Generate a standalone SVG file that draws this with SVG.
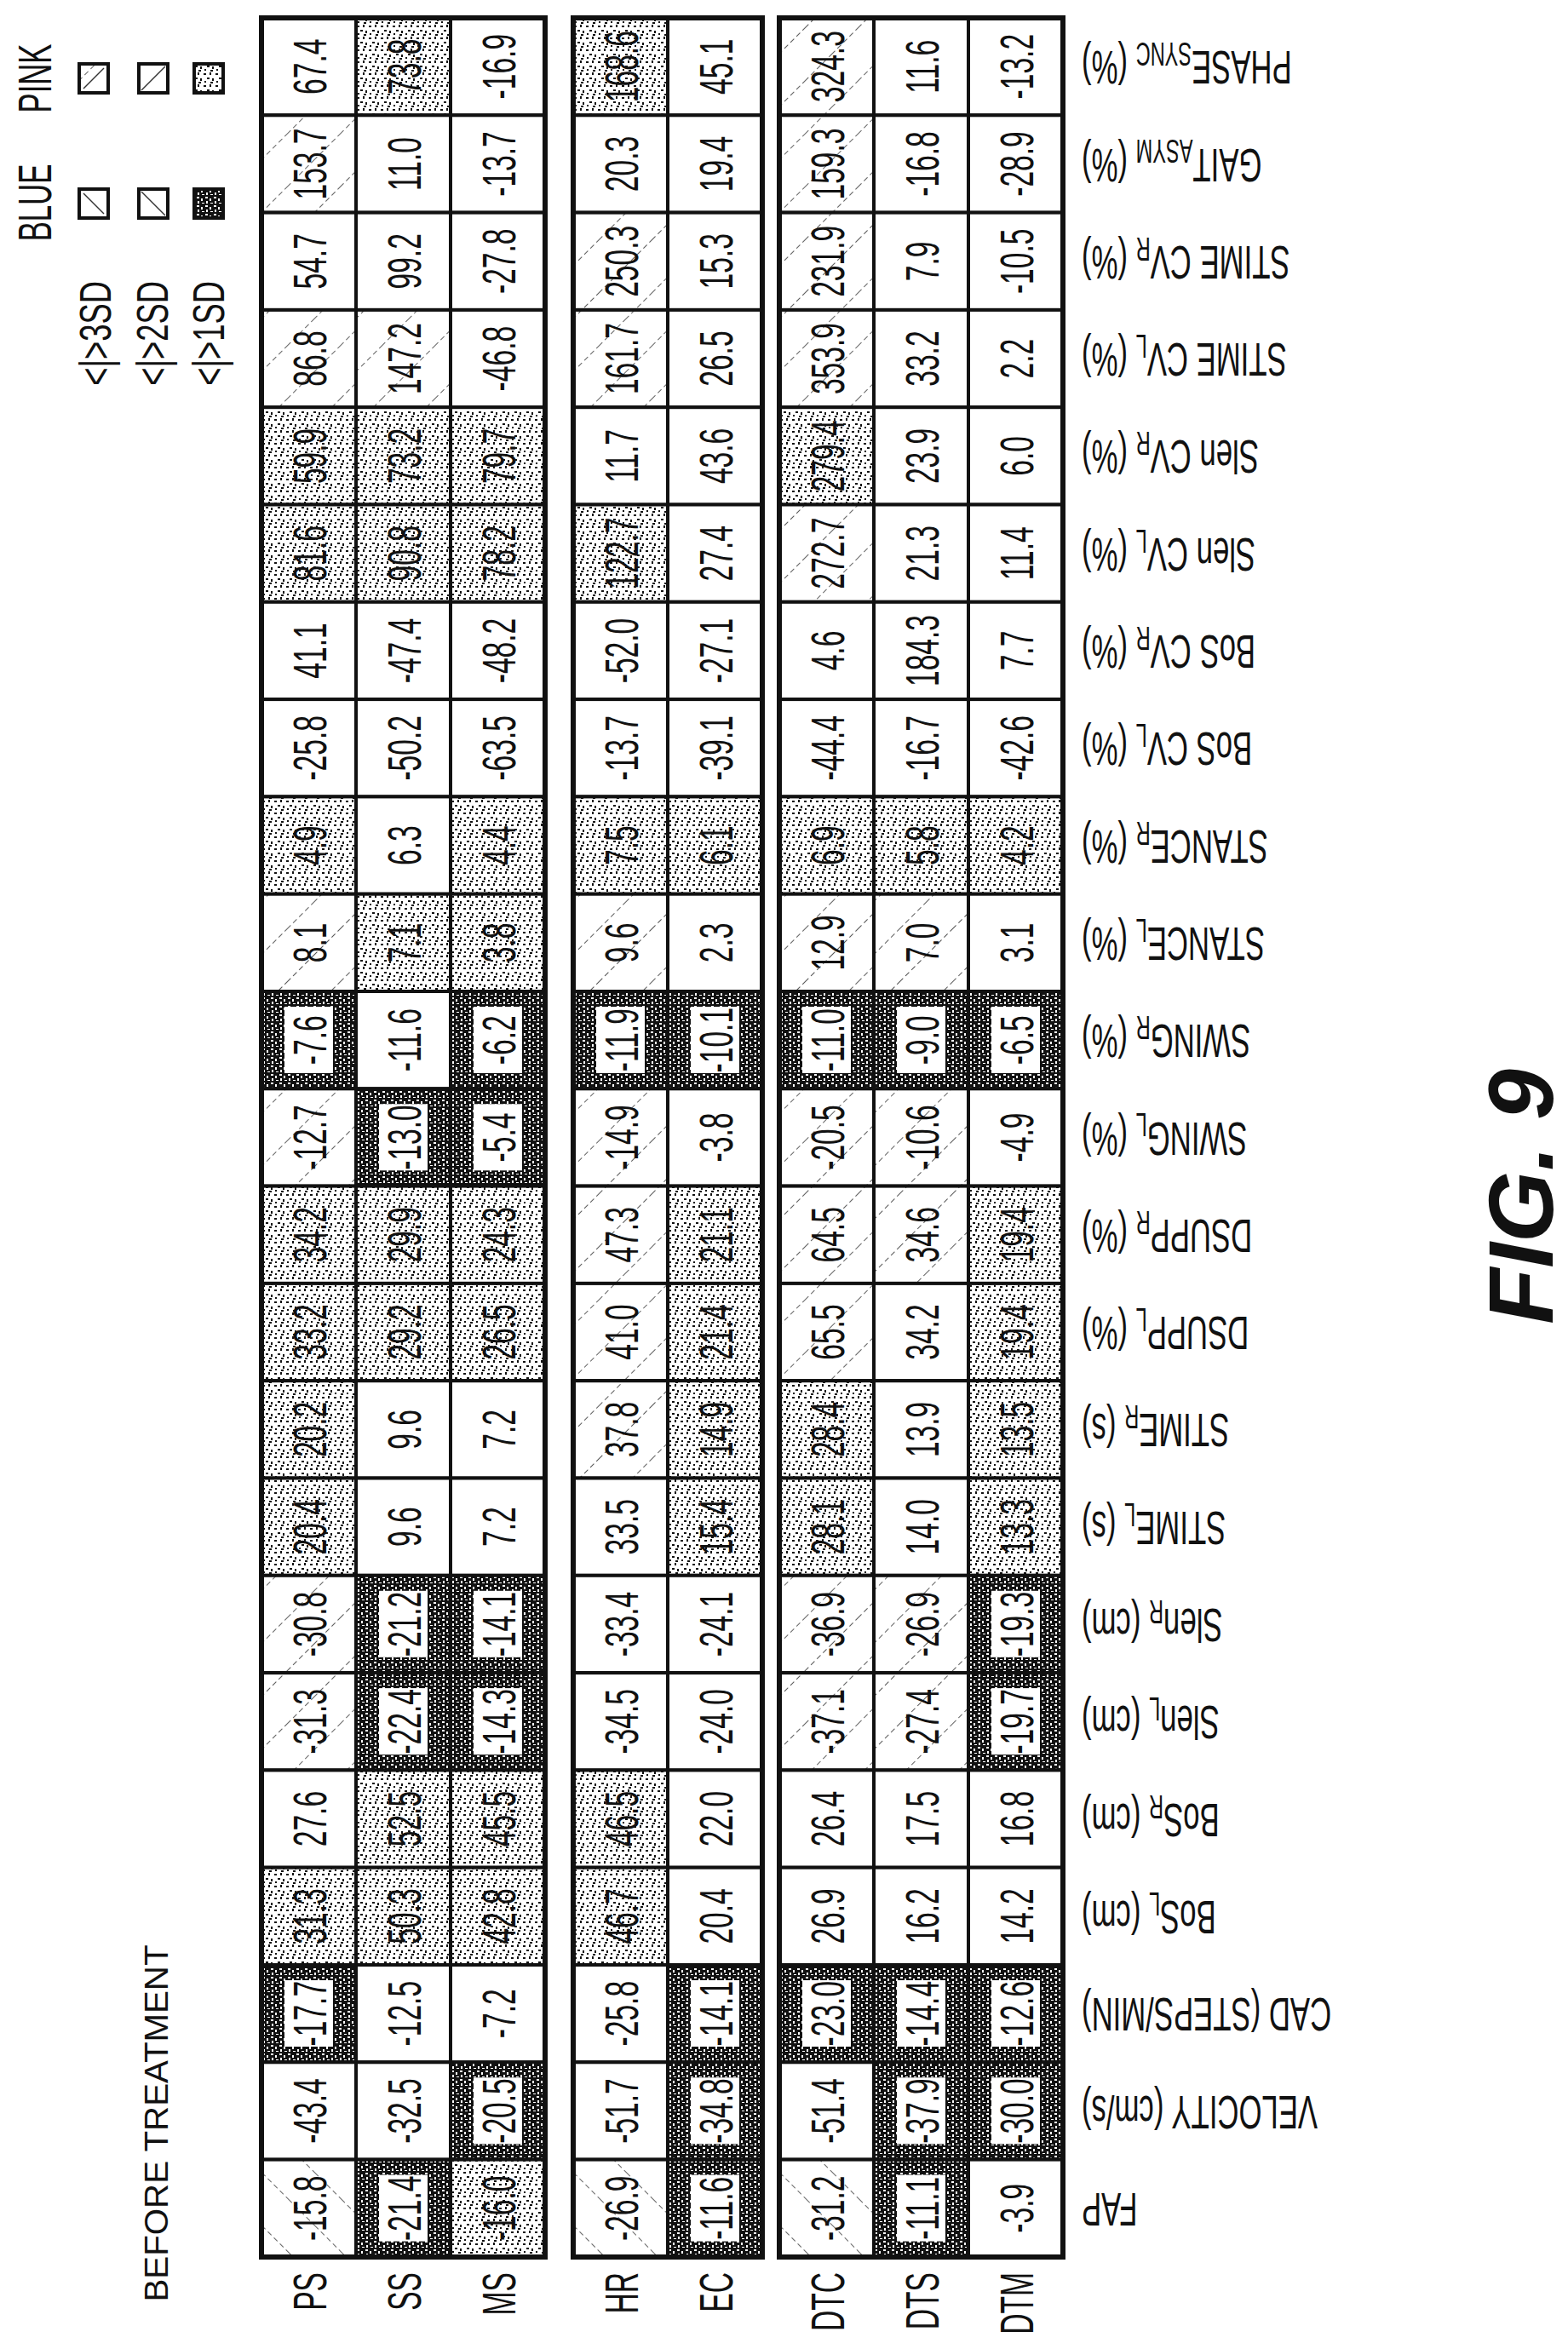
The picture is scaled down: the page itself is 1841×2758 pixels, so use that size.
<svg xmlns="http://www.w3.org/2000/svg" width="1841" height="2758" viewBox="0 0 1841 2758">
<style>
text{font-family:"Liberation Sans",Arial,sans-serif;fill:#111}
.n text{font-size:56px;text-anchor:middle}
.k{stroke:#111;stroke-width:4}
.W{fill:#fff}.H{fill:url(#hs)}.B{fill:url(#hb)}.P{fill:url(#st)}.D{fill:url(#dk)}
.i{fill:#fff;stroke:none}
.lb text{font-size:56px;text-anchor:end}
.sb{font-size:38px}
.lg{font-size:56px;text-anchor:middle}
</style>
<defs>
<pattern id="hs" width="44" height="44" patternUnits="userSpaceOnUse" patternTransform="rotate(45)"><rect width="44" height="44" fill="#fff"/><line x1="0" y1="0" x2="0" y2="44" stroke="#333" stroke-width="1.6" stroke-dasharray="6 4"/></pattern>
<pattern id="hb" width="44" height="44" patternUnits="userSpaceOnUse" patternTransform="rotate(-45)"><rect width="44" height="44" fill="#fff"/><line x1="0" y1="0" x2="0" y2="44" stroke="#333" stroke-width="1.6" stroke-dasharray="6 4"/></pattern>
<pattern id="st" width="14" height="14" patternUnits="userSpaceOnUse"><rect width="14" height="14" fill="#fff"/><rect x="1" y="2" width="3" height="2" fill="#111"/><rect x="8" y="1" width="2" height="3" fill="#111"/><rect x="5" y="7" width="3" height="2" fill="#111"/><rect x="11" y="8" width="2" height="3" fill="#111"/><rect x="2" y="11" width="2" height="2" fill="#111"/><rect x="9" y="12" width="3" height="2" fill="#111"/></pattern>
<pattern id="dk" width="10" height="10" patternUnits="userSpaceOnUse"><rect width="10" height="10" fill="#111"/><rect x="1" y="1" width="3" height="2" fill="#fff"/><rect x="6" y="3" width="2" height="3" fill="#fff"/><rect x="2" y="6" width="2" height="3" fill="#fff"/><rect x="7" y="8" width="3" height="1" fill="#fff"/></pattern>
</defs>

<g id="legend">
<text class="lg" transform="matrix(0,-0.62,1,0,60,92)">PINK</text>
<text class="lg" transform="matrix(0,-0.62,1,0,60,238)">BLUE</text>
<rect class="k" fill="url(#hs)" x="93" y="75" width="34" height="34"/>
<line x1="98" y1="104" x2="122" y2="80" stroke="#333" stroke-width="1.5"/>
<rect class="k W" x="163" y="75" width="34" height="34"/>
<line x1="166" y1="106" x2="194" y2="78" stroke="#333" stroke-width="1.5"/>
<rect class="k P" x="228" y="75" width="34" height="34"/>
<rect class="k W" x="93" y="222" width="34" height="34"/>
<line x1="98" y1="227" x2="122" y2="251" stroke="#333" stroke-width="1.5"/>
<rect class="k W" x="163" y="222" width="34" height="34"/>
<line x1="166" y1="225" x2="194" y2="253" stroke="#333" stroke-width="1.5"/>
<rect class="k D" x="228" y="222" width="34" height="34"/>
<text transform="matrix(0,-0.7,1,0,130,330)" style="font-size:52px;text-anchor:end">&lt;|&gt;3SD</text>
<text transform="matrix(0,-0.7,1,0,197,330)" style="font-size:52px;text-anchor:end">&lt;|&gt;2SD</text>
<text transform="matrix(0,-0.7,1,0,263,330)" style="font-size:52px;text-anchor:end">&lt;|&gt;1SD</text>
</g>

<g id="title"><text transform="matrix(0,-1.06,1,0,197,2493)" style="font-size:38px;text-anchor:middle">BEFORE TREATMENT</text></g>
<g id="fig"><text transform="matrix(0,-1,1,0,1823,1405)" style="font-size:108px;font-weight:bold;font-style:italic;text-anchor:middle">FIG. 9</text></g>

<g id="collabels" class="n">
<text transform="matrix(0,-0.6,1,0,382.5,2668)" style="text-anchor:end">PS</text>
<text transform="matrix(0,-0.6,1,0,493.5,2668)" style="text-anchor:end">SS</text>
<text transform="matrix(0,-0.6,1,0,604.5,2668)" style="text-anchor:end">MS</text>
<text transform="matrix(0,-0.6,1,0,748.5,2668)" style="text-anchor:end">HR</text>
<text transform="matrix(0,-0.6,1,0,859.5,2668)" style="text-anchor:end">EC</text>
<text transform="matrix(0,-0.6,1,0,990.5,2668)" style="text-anchor:end">DTC</text>
<text transform="matrix(0,-0.6,1,0,1101.5,2668)" style="text-anchor:end">DTS</text>
<text transform="matrix(0,-0.6,1,0,1212.5,2668)" style="text-anchor:end">DTM</text>
</g>

<g id="rowlabels" class="lb">
<text transform="matrix(-0.62,0,0,-1,1270,60.2)">PHASE<tspan class="sb" dy="10">SYNC</tspan><tspan dy="-10"> (%)</tspan></text>
<text transform="matrix(-0.62,0,0,-1,1270,174.5)">GAIT<tspan class="sb" dy="10">ASYM</tspan><tspan dy="-10"> (%)</tspan></text>
<text transform="matrix(-0.62,0,0,-1,1270,288.8)">STIME CV<tspan class="sb" dy="10">R</tspan><tspan dy="-10"> (%)</tspan></text>
<text transform="matrix(-0.62,0,0,-1,1270,403.1)">STIME CV<tspan class="sb" dy="10">L</tspan><tspan dy="-10"> (%)</tspan></text>
<text transform="matrix(-0.62,0,0,-1,1270,517.4)">Slen CV<tspan class="sb" dy="10">R</tspan><tspan dy="-10"> (%)</tspan></text>
<text transform="matrix(-0.62,0,0,-1,1270,631.7)">Slen CV<tspan class="sb" dy="10">L</tspan><tspan dy="-10"> (%)</tspan></text>
<text transform="matrix(-0.62,0,0,-1,1270,746)">BoS CV<tspan class="sb" dy="10">R</tspan><tspan dy="-10"> (%)</tspan></text>
<text transform="matrix(-0.62,0,0,-1,1270,860.3)">BoS CV<tspan class="sb" dy="10">L</tspan><tspan dy="-10"> (%)</tspan></text>
<text transform="matrix(-0.62,0,0,-1,1270,974.6)">STANCE<tspan class="sb" dy="10">R</tspan><tspan dy="-10"> (%)</tspan></text>
<text transform="matrix(-0.62,0,0,-1,1270,1088.9)">STANCE<tspan class="sb" dy="10">L</tspan><tspan dy="-10"> (%)</tspan></text>
<text transform="matrix(-0.62,0,0,-1,1270,1203.2)">SWING<tspan class="sb" dy="10">R</tspan><tspan dy="-10"> (%)</tspan></text>
<text transform="matrix(-0.62,0,0,-1,1270,1317.5)">SWING<tspan class="sb" dy="10">L</tspan><tspan dy="-10"> (%)</tspan></text>
<text transform="matrix(-0.62,0,0,-1,1270,1431.8)">DSUPP<tspan class="sb" dy="10">R</tspan><tspan dy="-10"> (%)</tspan></text>
<text transform="matrix(-0.62,0,0,-1,1270,1546.1)">DSUPP<tspan class="sb" dy="10">L</tspan><tspan dy="-10"> (%)</tspan></text>
<text transform="matrix(-0.62,0,0,-1,1270,1660.4)">STIME<tspan class="sb" dy="10">R</tspan><tspan dy="-10"> (s)</tspan></text>
<text transform="matrix(-0.62,0,0,-1,1270,1774.7)">STIME<tspan class="sb" dy="10">L</tspan><tspan dy="-10"> (s)</tspan></text>
<text transform="matrix(-0.62,0,0,-1,1270,1889)">Slen<tspan class="sb" dy="10">R</tspan><tspan dy="-10"> (cm)</tspan></text>
<text transform="matrix(-0.62,0,0,-1,1270,2003.3)">Slen<tspan class="sb" dy="10">L</tspan><tspan dy="-10"> (cm)</tspan></text>
<text transform="matrix(-0.62,0,0,-1,1270,2117.6)">BoS<tspan class="sb" dy="10">R</tspan><tspan dy="-10"> (cm)</tspan></text>
<text transform="matrix(-0.62,0,0,-1,1270,2231.9)">BoS<tspan class="sb" dy="10">L</tspan><tspan dy="-10"> (cm)</tspan></text>
<text transform="matrix(-0.62,0,0,-1,1270,2346.2)">CAD (STEPS/MIN)</text>
<text transform="matrix(-0.62,0,0,-1,1270,2460.5)">VELOCITY (cm/s)</text>
<text transform="matrix(-0.62,0,0,-1,1270,2574.8)">FAP</text>
</g>

<g id="col-PS" class="n" transform="translate(307,0)">
<rect class="k W" y="21" width="111" height="114.3"/><text transform="matrix(0,-0.6,1,0,75.5,78.2)">67.4</text>
<rect class="k H" y="135.3" width="111" height="114.3"/><text transform="matrix(0,-0.6,1,0,75.5,192.5)">153.7</text>
<rect class="k W" y="249.6" width="111" height="114.3"/><text transform="matrix(0,-0.6,1,0,75.5,306.8)">54.7</text>
<rect class="k H" y="363.9" width="111" height="114.3"/><text transform="matrix(0,-0.6,1,0,75.5,421.1)">86.8</text>
<rect class="k P" y="478.2" width="111" height="114.3"/><text transform="matrix(0,-0.6,1,0,75.5,535.4)">59.9</text>
<rect class="k P" y="592.5" width="111" height="114.3"/><text transform="matrix(0,-0.6,1,0,75.5,649.7)">81.6</text>
<rect class="k W" y="706.8" width="111" height="114.3"/><text transform="matrix(0,-0.6,1,0,75.5,764)">41.1</text>
<rect class="k W" y="821.1" width="111" height="114.3"/><text transform="matrix(0,-0.6,1,0,75.5,878.3)">-25.8</text>
<rect class="k P" y="935.4" width="111" height="114.3"/><text transform="matrix(0,-0.6,1,0,75.5,992.6)">4.9</text>
<rect class="k H" y="1049.7" width="111" height="114.3"/><text transform="matrix(0,-0.6,1,0,75.5,1106.9)">8.1</text>
<rect class="k D" y="1164" width="111" height="114.3"/><rect class="i" x="27" y="1182" width="57" height="78"/><text transform="matrix(0,-0.6,1,0,75.5,1221.2)">-7.6</text>
<rect class="k H" y="1278.3" width="111" height="114.3"/><text transform="matrix(0,-0.6,1,0,75.5,1335.5)">-12.7</text>
<rect class="k P" y="1392.6" width="111" height="114.3"/><text transform="matrix(0,-0.6,1,0,75.5,1449.8)">34.2</text>
<rect class="k P" y="1506.9" width="111" height="114.3"/><text transform="matrix(0,-0.6,1,0,75.5,1564.1)">33.2</text>
<rect class="k P" y="1621.2" width="111" height="114.3"/><text transform="matrix(0,-0.6,1,0,75.5,1678.4)">20.2</text>
<rect class="k P" y="1735.5" width="111" height="114.3"/><text transform="matrix(0,-0.6,1,0,75.5,1792.7)">20.4</text>
<rect class="k H" y="1849.8" width="111" height="114.3"/><text transform="matrix(0,-0.6,1,0,75.5,1907)">-30.8</text>
<rect class="k H" y="1964.1" width="111" height="114.3"/><text transform="matrix(0,-0.6,1,0,75.5,2021.3)">-31.3</text>
<rect class="k W" y="2078.4" width="111" height="114.3"/><text transform="matrix(0,-0.6,1,0,75.5,2135.6)">27.6</text>
<rect class="k P" y="2192.7" width="111" height="114.3"/><text transform="matrix(0,-0.6,1,0,75.5,2249.9)">31.3</text>
<rect class="k D" y="2307" width="111" height="114.3"/><rect class="i" x="27" y="2325" width="57" height="78"/><text transform="matrix(0,-0.6,1,0,75.5,2364.2)">-17.7</text>
<rect class="k W" y="2421.3" width="111" height="114.3"/><text transform="matrix(0,-0.6,1,0,75.5,2478.5)">-43.4</text>
<rect class="k B" y="2535.6" width="111" height="114.3"/><text transform="matrix(0,-0.6,1,0,75.5,2592.8)">-15.8</text>
</g>

<g id="col-SS" class="n" transform="translate(418,0)">
<rect class="k P" y="21" width="111" height="114.3"/><text transform="matrix(0,-0.6,1,0,75.5,78.2)">73.8</text>
<rect class="k W" y="135.3" width="111" height="114.3"/><text transform="matrix(0,-0.6,1,0,75.5,192.5)">11.0</text>
<rect class="k W" y="249.6" width="111" height="114.3"/><text transform="matrix(0,-0.6,1,0,75.5,306.8)">99.2</text>
<rect class="k H" y="363.9" width="111" height="114.3"/><text transform="matrix(0,-0.6,1,0,75.5,421.1)">147.2</text>
<rect class="k P" y="478.2" width="111" height="114.3"/><text transform="matrix(0,-0.6,1,0,75.5,535.4)">73.2</text>
<rect class="k P" y="592.5" width="111" height="114.3"/><text transform="matrix(0,-0.6,1,0,75.5,649.7)">90.8</text>
<rect class="k W" y="706.8" width="111" height="114.3"/><text transform="matrix(0,-0.6,1,0,75.5,764)">-47.4</text>
<rect class="k W" y="821.1" width="111" height="114.3"/><text transform="matrix(0,-0.6,1,0,75.5,878.3)">-50.2</text>
<rect class="k W" y="935.4" width="111" height="114.3"/><text transform="matrix(0,-0.6,1,0,75.5,992.6)">6.3</text>
<rect class="k P" y="1049.7" width="111" height="114.3"/><text transform="matrix(0,-0.6,1,0,75.5,1106.9)">7.1</text>
<rect class="k W" y="1164" width="111" height="114.3"/><text transform="matrix(0,-0.6,1,0,75.5,1221.2)">-11.6</text>
<rect class="k D" y="1278.3" width="111" height="114.3"/><rect class="i" x="27" y="1296.3" width="57" height="78"/><text transform="matrix(0,-0.6,1,0,75.5,1335.5)">-13.0</text>
<rect class="k P" y="1392.6" width="111" height="114.3"/><text transform="matrix(0,-0.6,1,0,75.5,1449.8)">29.9</text>
<rect class="k P" y="1506.9" width="111" height="114.3"/><text transform="matrix(0,-0.6,1,0,75.5,1564.1)">29.2</text>
<rect class="k W" y="1621.2" width="111" height="114.3"/><text transform="matrix(0,-0.6,1,0,75.5,1678.4)">9.6</text>
<rect class="k W" y="1735.5" width="111" height="114.3"/><text transform="matrix(0,-0.6,1,0,75.5,1792.7)">9.6</text>
<rect class="k D" y="1849.8" width="111" height="114.3"/><rect class="i" x="27" y="1867.8" width="57" height="78"/><text transform="matrix(0,-0.6,1,0,75.5,1907)">-21.2</text>
<rect class="k D" y="1964.1" width="111" height="114.3"/><rect class="i" x="27" y="1982.1" width="57" height="78"/><text transform="matrix(0,-0.6,1,0,75.5,2021.3)">-22.4</text>
<rect class="k P" y="2078.4" width="111" height="114.3"/><text transform="matrix(0,-0.6,1,0,75.5,2135.6)">52.5</text>
<rect class="k P" y="2192.7" width="111" height="114.3"/><text transform="matrix(0,-0.6,1,0,75.5,2249.9)">50.3</text>
<rect class="k W" y="2307" width="111" height="114.3"/><text transform="matrix(0,-0.6,1,0,75.5,2364.2)">-12.5</text>
<rect class="k W" y="2421.3" width="111" height="114.3"/><text transform="matrix(0,-0.6,1,0,75.5,2478.5)">-32.5</text>
<rect class="k D" y="2535.6" width="111" height="114.3"/><rect class="i" x="27" y="2553.6" width="57" height="78"/><text transform="matrix(0,-0.6,1,0,75.5,2592.8)">-21.4</text>
</g>

<g id="col-MS" class="n" transform="translate(529,0)">
<rect class="k W" y="21" width="111" height="114.3"/><text transform="matrix(0,-0.6,1,0,75.5,78.2)">-16.9</text>
<rect class="k W" y="135.3" width="111" height="114.3"/><text transform="matrix(0,-0.6,1,0,75.5,192.5)">-13.7</text>
<rect class="k W" y="249.6" width="111" height="114.3"/><text transform="matrix(0,-0.6,1,0,75.5,306.8)">-27.8</text>
<rect class="k W" y="363.9" width="111" height="114.3"/><text transform="matrix(0,-0.6,1,0,75.5,421.1)">-46.8</text>
<rect class="k P" y="478.2" width="111" height="114.3"/><text transform="matrix(0,-0.6,1,0,75.5,535.4)">79.7</text>
<rect class="k P" y="592.5" width="111" height="114.3"/><text transform="matrix(0,-0.6,1,0,75.5,649.7)">78.2</text>
<rect class="k W" y="706.8" width="111" height="114.3"/><text transform="matrix(0,-0.6,1,0,75.5,764)">-48.2</text>
<rect class="k W" y="821.1" width="111" height="114.3"/><text transform="matrix(0,-0.6,1,0,75.5,878.3)">-63.5</text>
<rect class="k P" y="935.4" width="111" height="114.3"/><text transform="matrix(0,-0.6,1,0,75.5,992.6)">4.4</text>
<rect class="k P" y="1049.7" width="111" height="114.3"/><text transform="matrix(0,-0.6,1,0,75.5,1106.9)">3.8</text>
<rect class="k D" y="1164" width="111" height="114.3"/><rect class="i" x="27" y="1182" width="57" height="78"/><text transform="matrix(0,-0.6,1,0,75.5,1221.2)">-6.2</text>
<rect class="k D" y="1278.3" width="111" height="114.3"/><rect class="i" x="27" y="1296.3" width="57" height="78"/><text transform="matrix(0,-0.6,1,0,75.5,1335.5)">-5.4</text>
<rect class="k P" y="1392.6" width="111" height="114.3"/><text transform="matrix(0,-0.6,1,0,75.5,1449.8)">24.3</text>
<rect class="k P" y="1506.9" width="111" height="114.3"/><text transform="matrix(0,-0.6,1,0,75.5,1564.1)">26.5</text>
<rect class="k W" y="1621.2" width="111" height="114.3"/><text transform="matrix(0,-0.6,1,0,75.5,1678.4)">7.2</text>
<rect class="k W" y="1735.5" width="111" height="114.3"/><text transform="matrix(0,-0.6,1,0,75.5,1792.7)">7.2</text>
<rect class="k D" y="1849.8" width="111" height="114.3"/><rect class="i" x="27" y="1867.8" width="57" height="78"/><text transform="matrix(0,-0.6,1,0,75.5,1907)">-14.1</text>
<rect class="k D" y="1964.1" width="111" height="114.3"/><rect class="i" x="27" y="1982.1" width="57" height="78"/><text transform="matrix(0,-0.6,1,0,75.5,2021.3)">-14.3</text>
<rect class="k P" y="2078.4" width="111" height="114.3"/><text transform="matrix(0,-0.6,1,0,75.5,2135.6)">45.5</text>
<rect class="k P" y="2192.7" width="111" height="114.3"/><text transform="matrix(0,-0.6,1,0,75.5,2249.9)">42.8</text>
<rect class="k W" y="2307" width="111" height="114.3"/><text transform="matrix(0,-0.6,1,0,75.5,2364.2)">-7.2</text>
<rect class="k D" y="2421.3" width="111" height="114.3"/><rect class="i" x="27" y="2439.3" width="57" height="78"/><text transform="matrix(0,-0.6,1,0,75.5,2478.5)">-20.5</text>
<rect class="k P" y="2535.6" width="111" height="114.3"/><text transform="matrix(0,-0.6,1,0,75.5,2592.8)">-16.0</text>
</g>

<g id="col-HR" class="n" transform="translate(673,0)">
<rect class="k P" y="21" width="111" height="114.3"/><text transform="matrix(0,-0.6,1,0,75.5,78.2)">168.6</text>
<rect class="k W" y="135.3" width="111" height="114.3"/><text transform="matrix(0,-0.6,1,0,75.5,192.5)">20.3</text>
<rect class="k H" y="249.6" width="111" height="114.3"/><text transform="matrix(0,-0.6,1,0,75.5,306.8)">250.3</text>
<rect class="k H" y="363.9" width="111" height="114.3"/><text transform="matrix(0,-0.6,1,0,75.5,421.1)">161.7</text>
<rect class="k W" y="478.2" width="111" height="114.3"/><text transform="matrix(0,-0.6,1,0,75.5,535.4)">11.7</text>
<rect class="k P" y="592.5" width="111" height="114.3"/><text transform="matrix(0,-0.6,1,0,75.5,649.7)">122.7</text>
<rect class="k W" y="706.8" width="111" height="114.3"/><text transform="matrix(0,-0.6,1,0,75.5,764)">-52.0</text>
<rect class="k W" y="821.1" width="111" height="114.3"/><text transform="matrix(0,-0.6,1,0,75.5,878.3)">-13.7</text>
<rect class="k P" y="935.4" width="111" height="114.3"/><text transform="matrix(0,-0.6,1,0,75.5,992.6)">7.5</text>
<rect class="k H" y="1049.7" width="111" height="114.3"/><text transform="matrix(0,-0.6,1,0,75.5,1106.9)">9.6</text>
<rect class="k D" y="1164" width="111" height="114.3"/><rect class="i" x="27" y="1182" width="57" height="78"/><text transform="matrix(0,-0.6,1,0,75.5,1221.2)">-11.9</text>
<rect class="k H" y="1278.3" width="111" height="114.3"/><text transform="matrix(0,-0.6,1,0,75.5,1335.5)">-14.9</text>
<rect class="k H" y="1392.6" width="111" height="114.3"/><text transform="matrix(0,-0.6,1,0,75.5,1449.8)">47.3</text>
<rect class="k H" y="1506.9" width="111" height="114.3"/><text transform="matrix(0,-0.6,1,0,75.5,1564.1)">41.0</text>
<rect class="k H" y="1621.2" width="111" height="114.3"/><text transform="matrix(0,-0.6,1,0,75.5,1678.4)">37.8</text>
<rect class="k W" y="1735.5" width="111" height="114.3"/><text transform="matrix(0,-0.6,1,0,75.5,1792.7)">33.5</text>
<rect class="k W" y="1849.8" width="111" height="114.3"/><text transform="matrix(0,-0.6,1,0,75.5,1907)">-33.4</text>
<rect class="k W" y="1964.1" width="111" height="114.3"/><text transform="matrix(0,-0.6,1,0,75.5,2021.3)">-34.5</text>
<rect class="k P" y="2078.4" width="111" height="114.3"/><text transform="matrix(0,-0.6,1,0,75.5,2135.6)">46.5</text>
<rect class="k P" y="2192.7" width="111" height="114.3"/><text transform="matrix(0,-0.6,1,0,75.5,2249.9)">46.7</text>
<rect class="k W" y="2307" width="111" height="114.3"/><text transform="matrix(0,-0.6,1,0,75.5,2364.2)">-25.8</text>
<rect class="k W" y="2421.3" width="111" height="114.3"/><text transform="matrix(0,-0.6,1,0,75.5,2478.5)">-51.7</text>
<rect class="k B" y="2535.6" width="111" height="114.3"/><text transform="matrix(0,-0.6,1,0,75.5,2592.8)">-26.9</text>
</g>

<g id="col-EC" class="n" transform="translate(784,0)">
<rect class="k W" y="21" width="111" height="114.3"/><text transform="matrix(0,-0.6,1,0,75.5,78.2)">45.1</text>
<rect class="k W" y="135.3" width="111" height="114.3"/><text transform="matrix(0,-0.6,1,0,75.5,192.5)">19.4</text>
<rect class="k W" y="249.6" width="111" height="114.3"/><text transform="matrix(0,-0.6,1,0,75.5,306.8)">15.3</text>
<rect class="k W" y="363.9" width="111" height="114.3"/><text transform="matrix(0,-0.6,1,0,75.5,421.1)">26.5</text>
<rect class="k W" y="478.2" width="111" height="114.3"/><text transform="matrix(0,-0.6,1,0,75.5,535.4)">43.6</text>
<rect class="k W" y="592.5" width="111" height="114.3"/><text transform="matrix(0,-0.6,1,0,75.5,649.7)">27.4</text>
<rect class="k W" y="706.8" width="111" height="114.3"/><text transform="matrix(0,-0.6,1,0,75.5,764)">-27.1</text>
<rect class="k W" y="821.1" width="111" height="114.3"/><text transform="matrix(0,-0.6,1,0,75.5,878.3)">-39.1</text>
<rect class="k P" y="935.4" width="111" height="114.3"/><text transform="matrix(0,-0.6,1,0,75.5,992.6)">6.1</text>
<rect class="k W" y="1049.7" width="111" height="114.3"/><text transform="matrix(0,-0.6,1,0,75.5,1106.9)">2.3</text>
<rect class="k D" y="1164" width="111" height="114.3"/><rect class="i" x="27" y="1182" width="57" height="78"/><text transform="matrix(0,-0.6,1,0,75.5,1221.2)">-10.1</text>
<rect class="k W" y="1278.3" width="111" height="114.3"/><text transform="matrix(0,-0.6,1,0,75.5,1335.5)">-3.8</text>
<rect class="k P" y="1392.6" width="111" height="114.3"/><text transform="matrix(0,-0.6,1,0,75.5,1449.8)">21.1</text>
<rect class="k P" y="1506.9" width="111" height="114.3"/><text transform="matrix(0,-0.6,1,0,75.5,1564.1)">21.4</text>
<rect class="k P" y="1621.2" width="111" height="114.3"/><text transform="matrix(0,-0.6,1,0,75.5,1678.4)">14.9</text>
<rect class="k P" y="1735.5" width="111" height="114.3"/><text transform="matrix(0,-0.6,1,0,75.5,1792.7)">15.4</text>
<rect class="k W" y="1849.8" width="111" height="114.3"/><text transform="matrix(0,-0.6,1,0,75.5,1907)">-24.1</text>
<rect class="k W" y="1964.1" width="111" height="114.3"/><text transform="matrix(0,-0.6,1,0,75.5,2021.3)">-24.0</text>
<rect class="k W" y="2078.4" width="111" height="114.3"/><text transform="matrix(0,-0.6,1,0,75.5,2135.6)">22.0</text>
<rect class="k W" y="2192.7" width="111" height="114.3"/><text transform="matrix(0,-0.6,1,0,75.5,2249.9)">20.4</text>
<rect class="k D" y="2307" width="111" height="114.3"/><rect class="i" x="27" y="2325" width="57" height="78"/><text transform="matrix(0,-0.6,1,0,75.5,2364.2)">-14.1</text>
<rect class="k D" y="2421.3" width="111" height="114.3"/><rect class="i" x="27" y="2439.3" width="57" height="78"/><text transform="matrix(0,-0.6,1,0,75.5,2478.5)">-34.8</text>
<rect class="k D" y="2535.6" width="111" height="114.3"/><rect class="i" x="27" y="2553.6" width="57" height="78"/><text transform="matrix(0,-0.6,1,0,75.5,2592.8)">-11.6</text>
</g>

<g id="col-DTC" class="n" transform="translate(915,0)">
<rect class="k H" y="21" width="111" height="114.3"/><text transform="matrix(0,-0.6,1,0,75.5,78.2)">324.3</text>
<rect class="k H" y="135.3" width="111" height="114.3"/><text transform="matrix(0,-0.6,1,0,75.5,192.5)">159.3</text>
<rect class="k H" y="249.6" width="111" height="114.3"/><text transform="matrix(0,-0.6,1,0,75.5,306.8)">231.9</text>
<rect class="k H" y="363.9" width="111" height="114.3"/><text transform="matrix(0,-0.6,1,0,75.5,421.1)">353.9</text>
<rect class="k P" y="478.2" width="111" height="114.3"/><text transform="matrix(0,-0.6,1,0,75.5,535.4)">279.4</text>
<rect class="k H" y="592.5" width="111" height="114.3"/><text transform="matrix(0,-0.6,1,0,75.5,649.7)">272.7</text>
<rect class="k W" y="706.8" width="111" height="114.3"/><text transform="matrix(0,-0.6,1,0,75.5,764)">4.6</text>
<rect class="k W" y="821.1" width="111" height="114.3"/><text transform="matrix(0,-0.6,1,0,75.5,878.3)">-44.4</text>
<rect class="k P" y="935.4" width="111" height="114.3"/><text transform="matrix(0,-0.6,1,0,75.5,992.6)">6.9</text>
<rect class="k H" y="1049.7" width="111" height="114.3"/><text transform="matrix(0,-0.6,1,0,75.5,1106.9)">12.9</text>
<rect class="k D" y="1164" width="111" height="114.3"/><rect class="i" x="27" y="1182" width="57" height="78"/><text transform="matrix(0,-0.6,1,0,75.5,1221.2)">-11.0</text>
<rect class="k H" y="1278.3" width="111" height="114.3"/><text transform="matrix(0,-0.6,1,0,75.5,1335.5)">-20.5</text>
<rect class="k H" y="1392.6" width="111" height="114.3"/><text transform="matrix(0,-0.6,1,0,75.5,1449.8)">64.5</text>
<rect class="k H" y="1506.9" width="111" height="114.3"/><text transform="matrix(0,-0.6,1,0,75.5,1564.1)">65.5</text>
<rect class="k P" y="1621.2" width="111" height="114.3"/><text transform="matrix(0,-0.6,1,0,75.5,1678.4)">28.4</text>
<rect class="k P" y="1735.5" width="111" height="114.3"/><text transform="matrix(0,-0.6,1,0,75.5,1792.7)">28.1</text>
<rect class="k H" y="1849.8" width="111" height="114.3"/><text transform="matrix(0,-0.6,1,0,75.5,1907)">-36.9</text>
<rect class="k H" y="1964.1" width="111" height="114.3"/><text transform="matrix(0,-0.6,1,0,75.5,2021.3)">-37.1</text>
<rect class="k W" y="2078.4" width="111" height="114.3"/><text transform="matrix(0,-0.6,1,0,75.5,2135.6)">26.4</text>
<rect class="k W" y="2192.7" width="111" height="114.3"/><text transform="matrix(0,-0.6,1,0,75.5,2249.9)">26.9</text>
<rect class="k D" y="2307" width="111" height="114.3"/><rect class="i" x="27" y="2325" width="57" height="78"/><text transform="matrix(0,-0.6,1,0,75.5,2364.2)">-23.0</text>
<rect class="k W" y="2421.3" width="111" height="114.3"/><text transform="matrix(0,-0.6,1,0,75.5,2478.5)">-51.4</text>
<rect class="k B" y="2535.6" width="111" height="114.3"/><text transform="matrix(0,-0.6,1,0,75.5,2592.8)">-31.2</text>
</g>

<g id="col-DTS" class="n" transform="translate(1026,0)">
<rect class="k W" y="21" width="111" height="114.3"/><text transform="matrix(0,-0.6,1,0,75.5,78.2)">11.6</text>
<rect class="k W" y="135.3" width="111" height="114.3"/><text transform="matrix(0,-0.6,1,0,75.5,192.5)">-16.8</text>
<rect class="k W" y="249.6" width="111" height="114.3"/><text transform="matrix(0,-0.6,1,0,75.5,306.8)">7.9</text>
<rect class="k W" y="363.9" width="111" height="114.3"/><text transform="matrix(0,-0.6,1,0,75.5,421.1)">33.2</text>
<rect class="k W" y="478.2" width="111" height="114.3"/><text transform="matrix(0,-0.6,1,0,75.5,535.4)">23.9</text>
<rect class="k W" y="592.5" width="111" height="114.3"/><text transform="matrix(0,-0.6,1,0,75.5,649.7)">21.3</text>
<rect class="k W" y="706.8" width="111" height="114.3"/><text transform="matrix(0,-0.6,1,0,75.5,764)">184.3</text>
<rect class="k W" y="821.1" width="111" height="114.3"/><text transform="matrix(0,-0.6,1,0,75.5,878.3)">-16.7</text>
<rect class="k P" y="935.4" width="111" height="114.3"/><text transform="matrix(0,-0.6,1,0,75.5,992.6)">5.8</text>
<rect class="k H" y="1049.7" width="111" height="114.3"/><text transform="matrix(0,-0.6,1,0,75.5,1106.9)">7.0</text>
<rect class="k D" y="1164" width="111" height="114.3"/><rect class="i" x="27" y="1182" width="57" height="78"/><text transform="matrix(0,-0.6,1,0,75.5,1221.2)">-9.0</text>
<rect class="k H" y="1278.3" width="111" height="114.3"/><text transform="matrix(0,-0.6,1,0,75.5,1335.5)">-10.6</text>
<rect class="k H" y="1392.6" width="111" height="114.3"/><text transform="matrix(0,-0.6,1,0,75.5,1449.8)">34.6</text>
<rect class="k W" y="1506.9" width="111" height="114.3"/><text transform="matrix(0,-0.6,1,0,75.5,1564.1)">34.2</text>
<rect class="k W" y="1621.2" width="111" height="114.3"/><text transform="matrix(0,-0.6,1,0,75.5,1678.4)">13.9</text>
<rect class="k W" y="1735.5" width="111" height="114.3"/><text transform="matrix(0,-0.6,1,0,75.5,1792.7)">14.0</text>
<rect class="k H" y="1849.8" width="111" height="114.3"/><text transform="matrix(0,-0.6,1,0,75.5,1907)">-26.9</text>
<rect class="k H" y="1964.1" width="111" height="114.3"/><text transform="matrix(0,-0.6,1,0,75.5,2021.3)">-27.4</text>
<rect class="k W" y="2078.4" width="111" height="114.3"/><text transform="matrix(0,-0.6,1,0,75.5,2135.6)">17.5</text>
<rect class="k W" y="2192.7" width="111" height="114.3"/><text transform="matrix(0,-0.6,1,0,75.5,2249.9)">16.2</text>
<rect class="k D" y="2307" width="111" height="114.3"/><rect class="i" x="27" y="2325" width="57" height="78"/><text transform="matrix(0,-0.6,1,0,75.5,2364.2)">-14.4</text>
<rect class="k D" y="2421.3" width="111" height="114.3"/><rect class="i" x="27" y="2439.3" width="57" height="78"/><text transform="matrix(0,-0.6,1,0,75.5,2478.5)">-37.9</text>
<rect class="k D" y="2535.6" width="111" height="114.3"/><rect class="i" x="27" y="2553.6" width="57" height="78"/><text transform="matrix(0,-0.6,1,0,75.5,2592.8)">-11.1</text>
</g>

<g id="col-DTM" class="n" transform="translate(1137,0)">
<rect class="k W" y="21" width="111" height="114.3"/><text transform="matrix(0,-0.6,1,0,75.5,78.2)">-13.2</text>
<rect class="k W" y="135.3" width="111" height="114.3"/><text transform="matrix(0,-0.6,1,0,75.5,192.5)">-28.9</text>
<rect class="k W" y="249.6" width="111" height="114.3"/><text transform="matrix(0,-0.6,1,0,75.5,306.8)">-10.5</text>
<rect class="k W" y="363.9" width="111" height="114.3"/><text transform="matrix(0,-0.6,1,0,75.5,421.1)">2.2</text>
<rect class="k W" y="478.2" width="111" height="114.3"/><text transform="matrix(0,-0.6,1,0,75.5,535.4)">6.0</text>
<rect class="k W" y="592.5" width="111" height="114.3"/><text transform="matrix(0,-0.6,1,0,75.5,649.7)">11.4</text>
<rect class="k W" y="706.8" width="111" height="114.3"/><text transform="matrix(0,-0.6,1,0,75.5,764)">7.7</text>
<rect class="k W" y="821.1" width="111" height="114.3"/><text transform="matrix(0,-0.6,1,0,75.5,878.3)">-42.6</text>
<rect class="k P" y="935.4" width="111" height="114.3"/><text transform="matrix(0,-0.6,1,0,75.5,992.6)">4.2</text>
<rect class="k W" y="1049.7" width="111" height="114.3"/><text transform="matrix(0,-0.6,1,0,75.5,1106.9)">3.1</text>
<rect class="k D" y="1164" width="111" height="114.3"/><rect class="i" x="27" y="1182" width="57" height="78"/><text transform="matrix(0,-0.6,1,0,75.5,1221.2)">-6.5</text>
<rect class="k W" y="1278.3" width="111" height="114.3"/><text transform="matrix(0,-0.6,1,0,75.5,1335.5)">-4.9</text>
<rect class="k P" y="1392.6" width="111" height="114.3"/><text transform="matrix(0,-0.6,1,0,75.5,1449.8)">19.4</text>
<rect class="k P" y="1506.9" width="111" height="114.3"/><text transform="matrix(0,-0.6,1,0,75.5,1564.1)">19.4</text>
<rect class="k P" y="1621.2" width="111" height="114.3"/><text transform="matrix(0,-0.6,1,0,75.5,1678.4)">13.5</text>
<rect class="k P" y="1735.5" width="111" height="114.3"/><text transform="matrix(0,-0.6,1,0,75.5,1792.7)">13.3</text>
<rect class="k D" y="1849.8" width="111" height="114.3"/><rect class="i" x="27" y="1867.8" width="57" height="78"/><text transform="matrix(0,-0.6,1,0,75.5,1907)">-19.3</text>
<rect class="k D" y="1964.1" width="111" height="114.3"/><rect class="i" x="27" y="1982.1" width="57" height="78"/><text transform="matrix(0,-0.6,1,0,75.5,2021.3)">-19.7</text>
<rect class="k W" y="2078.4" width="111" height="114.3"/><text transform="matrix(0,-0.6,1,0,75.5,2135.6)">16.8</text>
<rect class="k W" y="2192.7" width="111" height="114.3"/><text transform="matrix(0,-0.6,1,0,75.5,2249.9)">14.2</text>
<rect class="k D" y="2307" width="111" height="114.3"/><rect class="i" x="27" y="2325" width="57" height="78"/><text transform="matrix(0,-0.6,1,0,75.5,2364.2)">-12.6</text>
<rect class="k D" y="2421.3" width="111" height="114.3"/><rect class="i" x="27" y="2439.3" width="57" height="78"/><text transform="matrix(0,-0.6,1,0,75.5,2478.5)">-30.0</text>
<rect class="k W" y="2535.6" width="111" height="114.3"/><text transform="matrix(0,-0.6,1,0,75.5,2592.8)">-3.9</text>
</g>

<g id="connectors" fill="none" stroke="#111" stroke-width="6">
<rect x="307" y="21" width="333" height="2629"/>
<rect x="673" y="21" width="222" height="2629"/>
<rect x="915" y="21" width="333" height="2629"/>
</g>
</svg>
